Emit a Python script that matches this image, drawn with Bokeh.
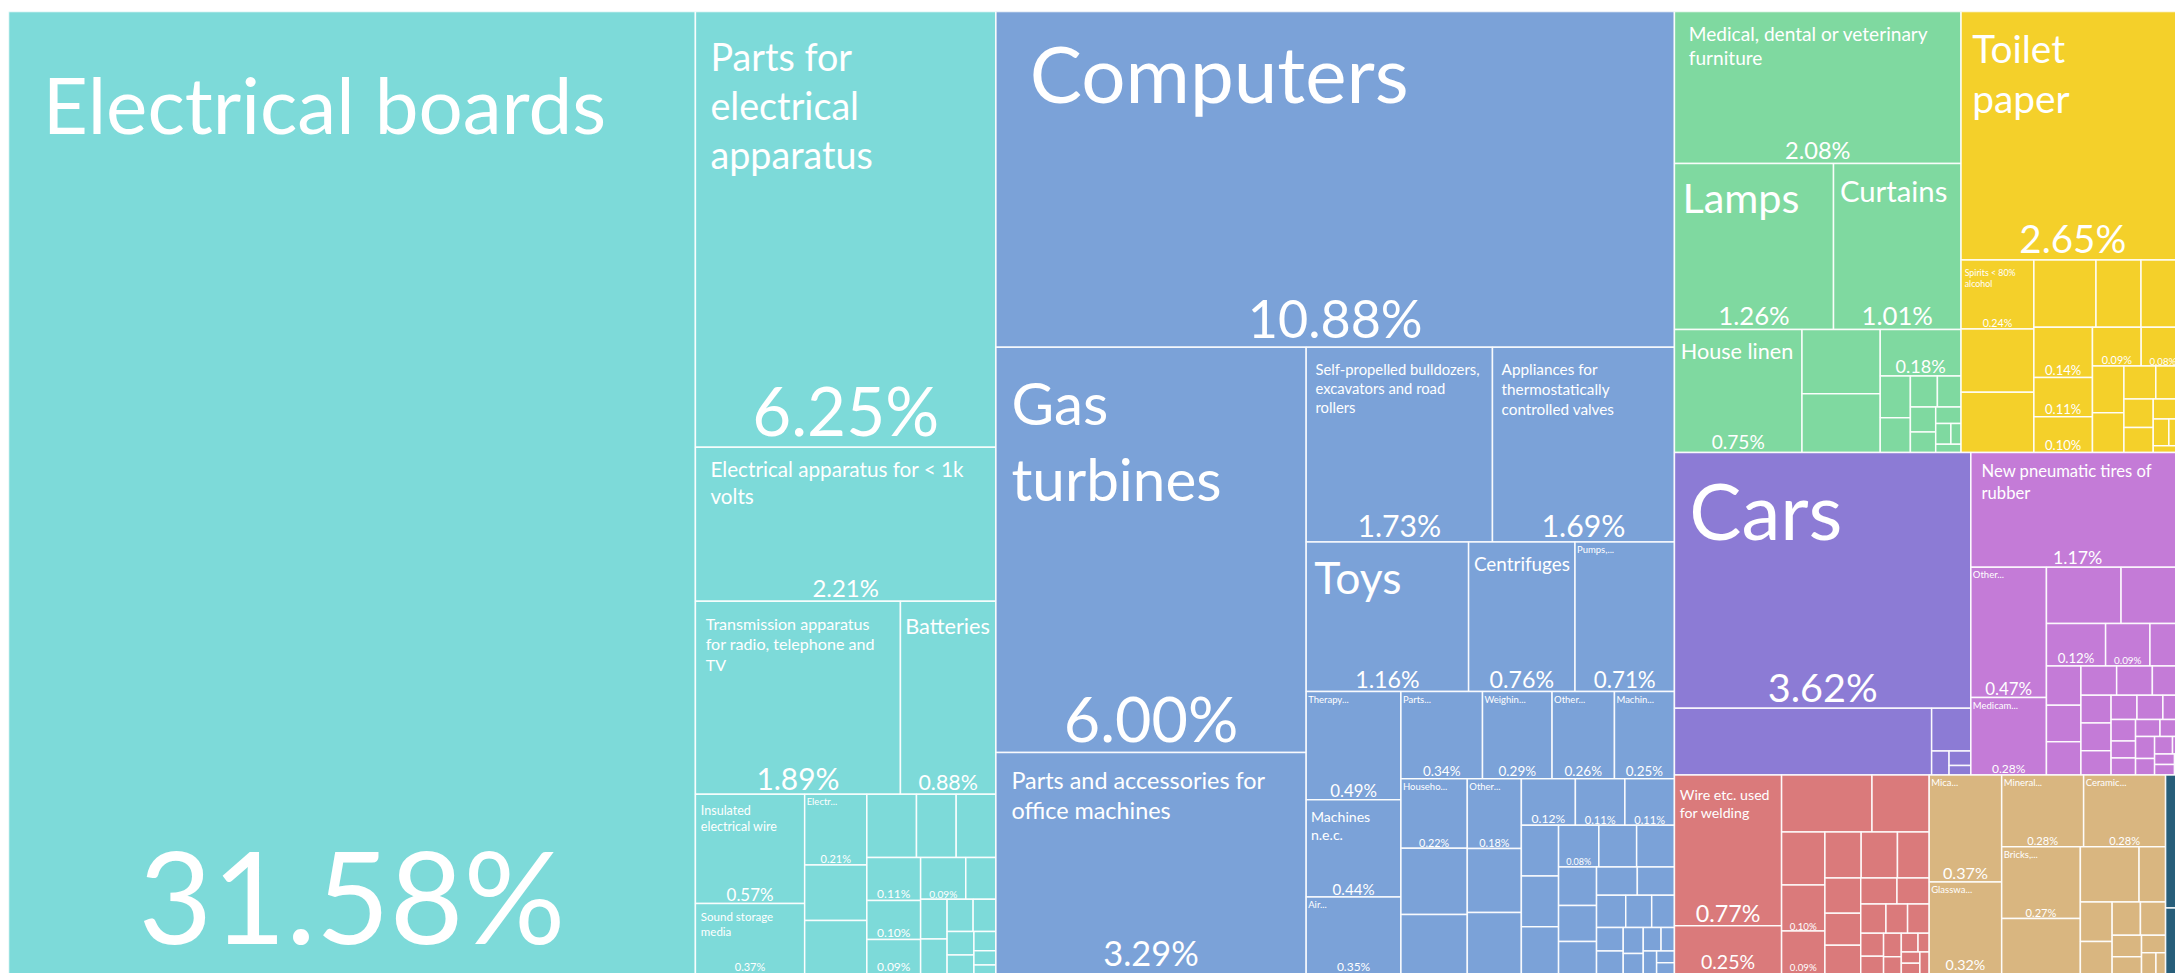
import math
from bokeh.plotting import figure
from bokeh.models import ColumnDataSource, Range1d
from bokeh.core.properties import value
from bokeh.embed import file_html
from bokeh.resources import INLINE

# ---------------- data: share of total exports (%) ----------------
electrical_names = ["Electrical boards", "Parts for electrical apparatus",
                    "Electrical apparatus for < 1k volts",
                    "Transmission apparatus for radio, telephone and TV", "Batteries",
                    "Insulated electrical wire", "Sound storage media", "Electr...",
                    "", "", "", "", "", "", "", "", "",
                    "", "", "", "", "", "", "", "", "", ""]
electrical_values = [31.58, 6.25, 2.21, 1.89, 0.88, 0.57, 0.37, 0.21,
                     0.165, 0.16, 0.15, 0.12, 0.12, 0.11, 0.10, 0.09, 0.09,
                     0.06, 0.05, 0.045, 0.04, 0.035, 0.03, 0.025, 0.02, 0.015, 0.01]

machine_names = ["Computers", "Gas turbines", "Parts and accessories for office machines",
                 "Self-propelled bulldozers, excavators and road rollers",
                 "Appliances for thermostatically controlled valves", "Toys", "Centrifuges",
                 "Pumps,...", "Therapy...", "Machines n.e.c.", "Air...", "Parts...",
                 "Weighin...", "Other...", "Machin...", "Househo...", "", "", "Other...",
                 "", "", "", "", "",
                 "", "", "", "", "", "", "", "", "", "", "", "", "", "", "", "", "",
                 "", "", "", "", "", ""]
machine_values = [10.88, 6.00, 3.29, 1.73, 1.69, 1.16, 0.76, 0.71, 0.49, 0.44, 0.35,
                  0.34, 0.29, 0.26, 0.25, 0.22, 0.21, 0.19, 0.18, 0.165, 0.16, 0.12,
                  0.11, 0.11,
                  0.09, 0.09, 0.085, 0.08, 0.075, 0.075, 0.07, 0.065, 0.06, 0.055, 0.05,
                  0.045, 0.04, 0.035, 0.03, 0.03, 0.025, 0.02, 0.02, 0.015, 0.015,
                  0.01, 0.01]

furniture_names = ["Medical, dental or veterinary furniture", "Lamps", "Curtains",
                   "House linen", "", "", "", "", "", "", "", "", "", "", "", "", ""]
furniture_values = [2.08, 1.26, 1.01, 0.75, 0.24, 0.22, 0.18,
                    0.06, 0.05, 0.04, 0.035, 0.03, 0.025, 0.02, 0.015, 0.01, 0.01]

paper_names = ["Toilet paper", "Spirits < 80% alcohol", "", "", "", "", "", "", "", "",
               "", "", "", "", "", "", "", "", "", "", "", ""]
paper_values = [2.65, 0.24, 0.22, 0.21, 0.20, 0.145, 0.14, 0.14, 0.11, 0.10,
                0.09, 0.08, 0.07, 0.06, 0.05, 0.045, 0.04, 0.035, 0.03, 0.02, 0.02, 0.01]

vehicle_names = ["Cars", "", "", "", "", ""]
vehicle_values = [3.62, 0.82, 0.08, 0.02, 0.015, 0.01]

rubber_names = ["New pneumatic tires of rubber", "Other...", "Medicam...",
                "", "", "", "", "", "", "", "", "", "", "", "", "", "", "", "", "", "",
                "", "", "", "", "", "", "", "", "", "", ""]
rubber_values = [1.17, 0.47, 0.28, 0.20, 0.17, 0.12, 0.09, 0.07,
                 0.065, 0.06, 0.055, 0.05, 0.05, 0.045, 0.04, 0.04, 0.035, 0.03, 0.03,
                 0.025, 0.025, 0.02, 0.02, 0.02, 0.02, 0.02, 0.015, 0.015,
                 0.01, 0.01, 0.01, 0.01]

metal_names = ["Wire etc. used for welding", "", "", "", "", "", "", "", "",
               "", "", "", "", "", "", "", "", "", "", "", "", "", "", "", "", "", ""]
metal_values = [0.77, 0.25, 0.245, 0.155, 0.11, 0.095, 0.09, 0.08, 0.08,
                0.07, 0.06, 0.055, 0.05, 0.045, 0.04, 0.035, 0.03, 0.03, 0.025,
                0.02, 0.02, 0.015, 0.015, 0.01, 0.01, 0.01, 0.01]

stone_names = ["Mica...", "Glasswa...", "Mineral...", "Ceramic...", "Bricks,...", "", "",
               "", "", "", "", "", "", "", "", "", ""]
stone_values = [0.37, 0.32, 0.28, 0.28, 0.27, 0.21, 0.155,
                0.07, 0.06, 0.05, 0.045, 0.04, 0.03, 0.025, 0.02, 0.015, 0.01]

other_names = ["", ""]
other_values = [0.12, 0.06]

groups = [
    (electrical_names, electrical_values, "#7DDAD9"),
    (machine_names, machine_values, "#7BA2D8"),
    (furniture_names, furniture_values, "#7FD9A0"),
    (paper_names, paper_values, "#F4D02A"),
    (vehicle_names, vehicle_values, "#8C7BD5"),
    (rubber_names, rubber_values, "#C47BD7"),
    (metal_names, metal_values, "#DA7A7B"),
    (stone_names, stone_values, "#D9B680"),
    (other_names, other_values, "#275E7A"),
]

# ---------------- layout ----------------
FIG_W, FIG_H = 2175, 973
LEFT_GAP, TOP_GAP = 8, 11
FRAME_W, FRAME_H = FIG_W - LEFT_GAP, FIG_H - TOP_GAP
LAYOUT_W, LAYOUT_H = 2176.0, 963.0
FONT = "Lato"


def squarify(vals, x0, y0, x1, y1):
    n = len(vals)
    out = [None] * n
    total = float(sum(vals))
    i0 = i1 = 0
    while i0 < n:
        dx, dy = x1 - x0, y1 - y0
        s = vals[i1]
        i1 += 1
        mn = mx = s
        alpha = max(dy / dx, dx / dy) / total
        beta = s * s * alpha
        best = max(mx / beta, beta / mn)
        while i1 < n:
            nv = vals[i1]
            s2 = s + nv
            mn2, mx2 = min(mn, nv), max(mx, nv)
            beta = s2 * s2 * alpha
            r = max(mx2 / beta, beta / mn2)
            if r > best:
                break
            s, mn, mx, best = s2, mn2, mx2, r
            i1 += 1
        if dx < dy:
            yb = y1 if i1 >= n else y0 + dy * s / total
            xx = x0
            for i in range(i0, i1):
                ww = dx * vals[i] / s
                out[i] = (xx, y0, xx + ww, yb)
                xx += ww
            y0 = yb
        else:
            xb = x1 if i1 >= n else x0 + dx * s / total
            yy = y0
            for i in range(i0, i1):
                hh = dy * vals[i] / s
                out[i] = (x0, yy, xb, yy + hh)
                yy += hh
            x0 = xb
        total -= s
        i0 = i1
    return out


CW = dict(zip("abcdefghijklmnopqrstuvwxyz",
              [.51, .56, .46, .56, .52, .32, .5, .56, .24, .24, .5, .24, .84, .56, .56, .56,
               .56, .36, .42, .35, .56, .5, .76, .49, .5, .45]))
CW.update(dict(zip("ABCDEFGHIJKLMNOPQRSTUVWXYZ",
                   [.66, .63, .66, .73, .55, .53, .71, .74, .27, .4, .63, .49, .89, .74, .78,
                    .59, .78, .61, .53, .57, .71, .66, .99, .63, .6, .59])))
CW.update({c: .58 for c in "0123456789"})
CW.update({" ": .25, ".": .23, ",": .23, "%": .8, "<": .58, "-": .34})


def tw(text, size):
    return sum(CW.get(ch, .55) for ch in text) * size


def wrap(text, size, maxw):
    lines, cur = [], ""
    for wd in text.split(" "):
        cand = wd if not cur else cur + " " + wd
        if tw(cand, size) <= maxw:
            cur = cand
        else:
            if not cur or tw(wd, size) > maxw:
                return None
            lines.append(cur)
            cur = wd
    if cur:
        lines.append(cur)
    return lines


def share_layout(v, w, h, named):
    if v < 0.08:
        return None
    txt = f"{v:.2f}%"
    wl = 0.62 * w / tw(txt, 1.0)
    hl = 0.155 * h
    if not named:
        # unnamed cells only carry a share label when they are small
        if h >= 52 or w < 40:
            return None
        hl = max(hl, min(20.0, 0.4 * h))
    fs = min(wl, hl)
    if fs < 6:
        return None
    return txt, max(fs, 7.5)


def name_layout(name, w, h, share_fs):
    if not name:
        return None
    if name.endswith("..."):
        if w < 28 or h < 24:
            return None
        return [name], 9.5, 2.0, 2.0
    padx = 0.05 * w
    pady = 0.05 * h + 4
    availw = w - 2 * padx
    availh = h - pady - 0.05 * h - 1.25 * share_fs / 0.92
    s = min(85.0, 0.62 * math.sqrt(w * h / len(name)))
    while s >= 9:
        lines = wrap(name, 0.92 * s, availw)
        if lines and len(lines) * 1.2 * s <= availh:
            fs = 0.92 * s
            return lines, fs, padx, pady - 0.08 * fs
        s -= 0.5
    return None


gtot = [sum(g[1]) for g in groups]
gorder = sorted(range(len(groups)), key=lambda i: -gtot[i])
grects = squarify([gtot[i] for i in gorder], 0.0, 0.0, LAYOUT_W, LAYOUT_H)

cells = dict(left=[], right=[], top=[], bottom=[], color=[])
names = dict(x=[], y=[], text=[], fs=[])
shares = dict(x=[], y=[], text=[], fs=[])

for gi, (x0, y0, x1, y1) in zip(gorder, grects):
    nm, vals, col = groups[gi]
    order = sorted(range(len(vals)), key=lambda i: -vals[i])
    rects = squarify([vals[i] for i in order], x0, y0, x1, y1)
    for k, (a, b, c, d) in zip(order, rects):
        cells["left"].append(a); cells["right"].append(c)
        cells["top"].append(b); cells["bottom"].append(d)
        cells["color"].append(col)
        w, h = c - a, d - b
        sh = share_layout(vals[k], w, h, bool(nm[k]))
        sfs = 0.0
        if sh:
            txt, sfs = sh
            shares["x"].append((a + c) / 2)
            shares["y"].append(min(d - 0.56 * sfs, FRAME_H - 0.62 * sfs))
            shares["text"].append(txt)
            shares["fs"].append(f"{sfs:.1f}px")
        nl = name_layout(nm[k], w, h, sfs)
        if nl:
            lines, fs, padx, pady = nl
            for j, ln in enumerate(lines):
                names["x"].append(a + padx)
                names["y"].append(b + pady + j * 1.3 * fs)
                names["text"].append(ln)
                names["fs"].append(f"{fs:.1f}px")

p = figure(width=FIG_W, height=FIG_H, output_backend="svg", toolbar_location=None,
           x_range=Range1d(0, FRAME_W), y_range=Range1d(FRAME_H, 0),
           min_border=0, min_border_left=LEFT_GAP, min_border_top=TOP_GAP)
p.axis.visible = False
p.grid.visible = False
p.outline_line_color = None
p.background_fill_color = "white"
p.border_fill_color = "white"

p.quad(left="left", right="right", top="top", bottom="bottom", fill_color="color",
       line_color="white", line_width=1.5, line_alpha=0.9, source=ColumnDataSource(cells))
p.text(x="x", y="y", text="text", text_font_size="fs", source=ColumnDataSource(names),
       text_font=value(FONT), text_color="white", text_align="left", text_baseline="top")
p.text(x="x", y="y", text="text", text_font_size="fs", source=ColumnDataSource(shares),
       text_font=value(FONT), text_color="white", text_align="center",
       text_baseline="middle")

open("out.html", "w").write(file_html(p, INLINE))
